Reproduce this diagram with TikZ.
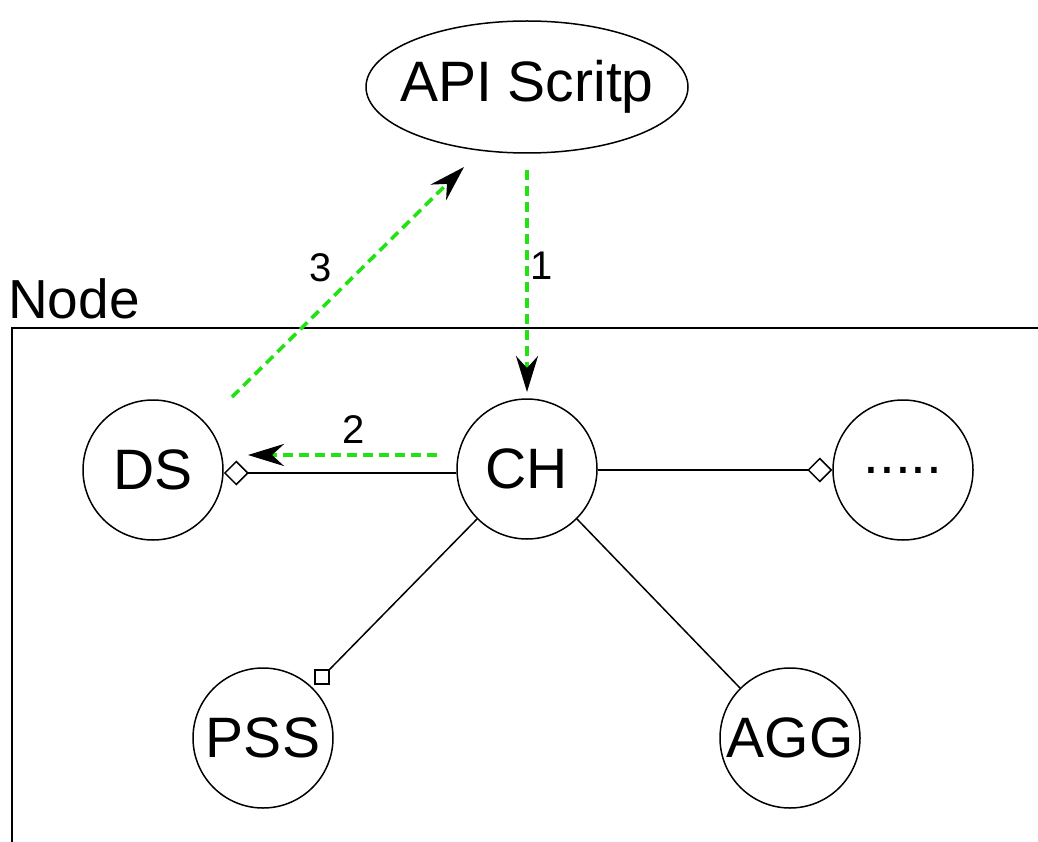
\documentclass[tikz,border=0pt]{standalone}
\usepackage{fontspec}
\setmainfont{Liberation Sans}
\usetikzlibrary{arrows.meta,shapes.geometric}
\definecolor{flowgreen}{RGB}{34,226,20}
\tikzset{
  comp/.style={circle,draw,line width=1.5pt,minimum size=140pt,inner sep=0pt,
    font=\fontsize{57}{60}\selectfont},
  link/.style={line width=1.5pt},
  porttip/.style={-{Diamond[open,length=25pt,width=25pt,line width=1.5pt]}},
  flow/.style={flowgreen,line width=3.6pt,dash pattern=on 10pt off 6pt,
    -{Stealth[black,length=36pt,width=22pt,inset=12pt]}},
  steplabel/.style={font=\fontsize{40}{42}\selectfont,inner sep=0pt},
  portbox/.style={draw,fill=white,line width=1.5pt,minimum size=14pt,inner sep=0pt}
}
\begin{document}
\begin{tikzpicture}[x=1pt,y=-1pt]
\useasboundingbox (0,0) rectangle (1038,842);
% node frame
\coordinate (fbl) at (12,842);
\coordinate (ftl) at (12,328);
\coordinate (ftr) at (1038,328);
\draw[line width=1.5pt] (fbl) -- (ftl) -- (ftr);
\node[anchor=base west,inner sep=0pt,font=\fontsize{55}{58}\selectfont] (nodelbl) at (8,318) {Node};
% script
\node[ellipse,draw,line width=1.5pt,minimum width=322pt,minimum height=132pt,inner sep=0pt] (api) at (527,87) {};
\node[inner sep=0pt,font=\fontsize{57}{60}\selectfont] (apitext) at (api.center) {API Scritp};
% components
\node[comp] (ch) at (527,469) {CH};
\node[comp] (ds) at (153,470) {DS};
\node[comp] (more) at (903,470) {.....};
\node[comp] (pss) at (263,738) {PSS};
\node[comp] (agg) at (790,738) {AGG};
% links
\draw[link,porttip] (ch.west |- 0,473) -- (ds.east |- 0,473);
\draw[link,porttip] (ch.east |- 0,470) -- (more.west);
\node[portbox] (pssport) at (322,677) {};
\draw[link] (ch.225) -- (pssport.north east);
\draw[link] (ch.-45) -- (agg.135);
% request flow
\coordinate (f1s) at (527,170);
\coordinate (f1e) at (527,392);
\coordinate (f2s) at (437,455);
\coordinate (f2e) at (248,455);
\coordinate (f3s) at (232,397);
\coordinate (f3e) at (464,167);
\draw[flow] (f1s) -- (f1e);
\draw[flow] (f2s) -- (f2e);
\draw[flow] (f3s) -- (f3e);
\node[steplabel] (l1) at (542,266) {1};
\node[steplabel] (l2) at (354,430) {2};
\node[steplabel] (l3) at (321,268) {3};
\end{tikzpicture}
\end{document}
